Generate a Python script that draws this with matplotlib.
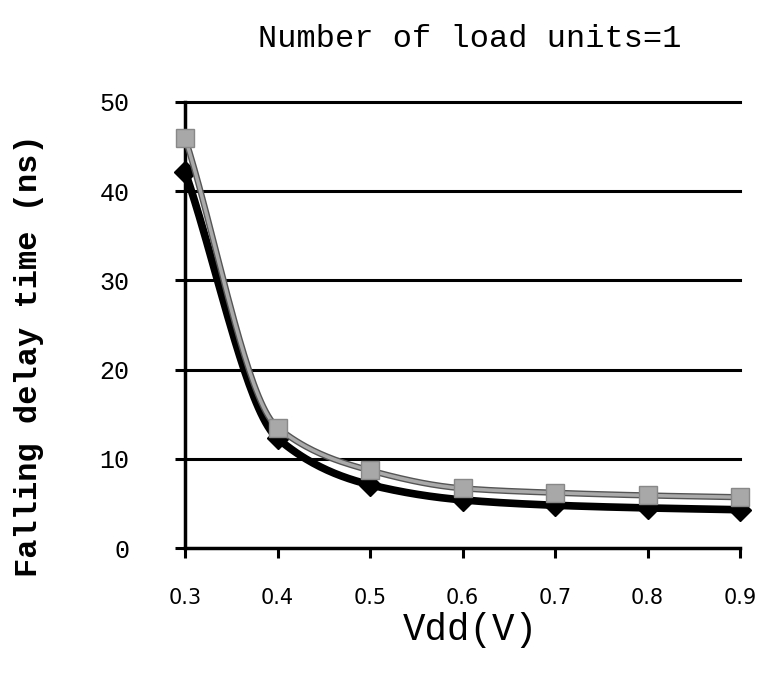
import matplotlib.pyplot as plt
import numpy as np

# ===== data =====
vdd = [0.3, 0.4, 0.5, 0.6, 0.7, 0.8, 0.9]
delay_black = [42.2, 12.3, 7.1, 5.4, 4.8, 4.5, 4.3]
delay_gray = [46.0, 13.5, 8.7, 6.7, 6.2, 5.9, 5.7]


def smooth(x, y, n=40):
    # monotone cubic (fritsch-carlson) through the points
    x = np.asarray(x, float)
    y = np.asarray(y, float)
    h = np.diff(x)
    d = np.diff(y) / h
    m = np.zeros_like(y)
    m[0], m[-1] = d[0], d[-1]
    for i in range(1, len(y) - 1):
        if d[i - 1] * d[i] > 0:
            w1 = 2 * h[i] + h[i - 1]
            w2 = h[i] + 2 * h[i - 1]
            m[i] = (w1 + w2) / (w1 / d[i - 1] + w2 / d[i])
    xs, ys = [], []
    t = np.linspace(0, 1, n)
    for i in range(len(x) - 1):
        h00 = 2 * t ** 3 - 3 * t ** 2 + 1
        h10 = t ** 3 - 2 * t ** 2 + t
        h01 = -2 * t ** 3 + 3 * t ** 2
        h11 = t ** 3 - t ** 2
        xs.append(x[i] + t * h[i])
        ys.append(h00 * y[i] + h10 * h[i] * m[i] + h01 * y[i + 1] + h11 * h[i] * m[i + 1])
    return np.concatenate(xs), np.concatenate(ys)


fig = plt.figure(figsize=(7.63, 6.75), dpi=100)
ax = fig.add_axes([0.2425, 0.188, 0.7275, 0.661])

mono = "Liberation Mono"

for yv in [10, 20, 30, 40, 50]:
    ax.axhline(yv, color="black", lw=2.2, zorder=1)

sx, sy = smooth(vdd, delay_black)
ax.plot(sx, sy, color="black", lw=5.5, zorder=2)
ax.plot(vdd, delay_black, ls="none", marker="D", ms=11, color="black", zorder=3)

sx, sy = smooth(vdd, delay_gray)
ax.plot(sx, sy, color="#555555", lw=4.5, zorder=4)
ax.plot(sx, sy, color="#aaaaaa", lw=2.5, zorder=4)
ax.plot(vdd, delay_gray, ls="none", marker="s", ms=13, color="#a8a8a8",
        markeredgecolor="#888888", markeredgewidth=1, zorder=5)

ax.set_xlim(0.3, 0.9)
ax.set_ylim(0, 50)
ax.set_xticks(vdd)
ax.set_xticklabels([f"{v:.1f}" for v in vdd], fontsize=15, family="DejaVu Sans")
ax.set_yticks([0, 10, 20, 30, 40, 50])
ax.set_yticklabels(["0", "10", "20", "30", "40", "50"], fontsize=18, family=mono)
ax.tick_params(axis="both", direction="out", length=7, width=2.2, color="black")
ax.tick_params(axis="y", pad=33)
ax.tick_params(axis="x", pad=22)

for s in ["top", "right"]:
    ax.spines[s].set_visible(False)
for s in ["left", "bottom"]:
    ax.spines[s].set_linewidth(2.5)
for ln in ax.lines:
    ln.set_clip_on(False)

fig.text(0.616, 0.942, "Number of load units=1", ha="center", va="center",
         fontsize=23, family=mono)
fig.text(0.038, 0.473, "Falling delay time (ns)", ha="center", va="center",
         rotation=90, fontsize=23, family=mono, fontweight="bold")
fig.text(0.616, 0.066, "Vdd(V)", ha="center", va="center", fontsize=27, family=mono)

fig.savefig("out.png", dpi=100)
